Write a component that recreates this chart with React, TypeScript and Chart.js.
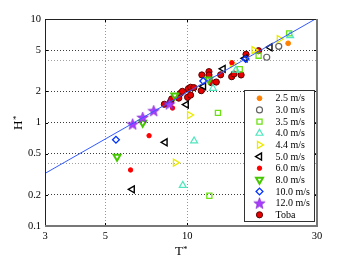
import React, { useEffect, useRef } from 'react';
import { Chart, registerables } from 'chart.js';
import { drawPoint } from 'chart.js/helpers';

Chart.register(...registerables);

const FONT = '"Liberation Serif", "DejaVu Serif", serif';

// ---- axis ticks ----
const xTickValues = [3, 5, 10, 30];
const xGridValues = [5, 10];
const yTickValues = [0.1, 0.2, 0.5, 1, 2, 5, 10];
const yMinorGridValues = [0.4, 4];

// ---- fitted line (H* = 0.062 T*^1.5) end points ----
const fitT = [3, 30];
const fitH = [0.322, 10.2];

// ---- series labels ----
const seriesLabels = ['2.5 m/s', '3.0 m/s', '3.5 m/s', '4.0 m/s', '4.4 m/s', '5.0 m/s', '6.0 m/s', '8.0 m/s', '10.0 m/s', '12.0 m/s', 'Toba'];

// ---- series values (T*, H*) ----
const t25 = [23.5];
const h25 = [5.82];
const t30 = [21.7, 19.6];
const h30 = [5.45, 4.27];
const t35 = [23.7, 18.3, 15.6, 12.97, 12.06];
const h35 = [7.27, 4.42, 3.27, 1.24, 0.196];
const t40 = [23.9, 15.1, 12.43, 10.6, 9.63];
const h40 = [6.9, 3.21, 2.14, 0.663, 0.247];
const t44 = [21.8, 17.6, 14.66, 10.2, 9.05];
const h44 = [6.4, 5.01, 3.67, 1.18, 0.409];
const t50 = [20.15, 16.3, 13.55, 11.48, 9.92, 8.29, 6.28];
const h50 = [5.33, 4.17, 3.3, 2.24, 1.49, 0.644, 0.226];
const t60 = [14.6, 8.83, 7.24, 6.19];
const h60 = [3.78, 1.38, 0.746, 0.348];
const t80 = [12.0, 9.0, 6.86, 5.52];
const h80 = [2.6, 1.82, 0.995, 0.467];
const t100 = [16.4, 11.45, 5.47];
const h100 = [4.11, 2.52, 0.682];
const t120 = [8.6, 7.53, 6.86, 6.3];
const h120 = [1.51, 1.3, 1.12, 0.967];
const tToba = [8.24, 8.68, 8.77, 9.31, 9.46, 9.6, 10.03, 10.29, 10.1, 10.29, 10.58, 11.26, 11.32, 12.02, 12.02, 12.3, 12.79, 13.27, 14.57, 14.86, 15.78, 16.45, 18.29];
const hToba = [1.5, 1.59, 1.69, 1.72, 1.92, 2.0, 1.75, 1.84, 2.12, 2.19, 2.17, 2.03, 2.88, 3.1, 2.88, 2.42, 2.46, 2.89, 2.77, 2.94, 2.88, 4.56, 4.94];

const seriesT = [t25, t30, t35, t40, t44, t50, t60, t80, t100, t120, tToba];
const seriesH = [h25, h30, h35, h40, h44, h50, h60, h80, h100, h120, hToba];

function makeStar(color: string): HTMLCanvasElement {
  const c = document.createElement('canvas');
  c.width = 13;
  c.height = 13;
  const g = c.getContext('2d')!;
  g.beginPath();
  for (let i = 0; i < 10; i++) {
    const r = i % 2 === 0 ? 6 : 2.5;
    const a = -Math.PI / 2 + (i * Math.PI) / 5;
    g.lineTo(6.5 + r * Math.cos(a), 7 + r * Math.sin(a));
  }
  g.closePath();
  g.fillStyle = color;
  g.fill();
  g.strokeStyle = 'rgb(120,30,200)';
  g.lineWidth = 0.6;
  g.stroke();
  return c;
}

type Style = { pointStyle: any; rotation: number; radius: number; fill: string; stroke: string; width: number };

function makeStyles(): Style[] {
  const none = 'rgba(0,0,0,0)';
  return [
    { pointStyle: 'circle', rotation: 0, radius: 2.4, fill: 'rgb(255,128,0)', stroke: 'rgb(255,128,0)', width: 1 },
    { pointStyle: 'circle', rotation: 0, radius: 3, fill: none, stroke: 'rgb(100,100,100)', width: 1.2 },
    { pointStyle: 'rect', rotation: 0, radius: 3.6, fill: none, stroke: 'rgb(110,225,20)', width: 1.3 },
    { pointStyle: 'triangle', rotation: 0, radius: 4, fill: none, stroke: 'rgb(80,230,190)', width: 1.2 },
    { pointStyle: 'triangle', rotation: 90, radius: 4, fill: none, stroke: 'rgb(235,235,0)', width: 1.3 },
    { pointStyle: 'triangle', rotation: -90, radius: 4, fill: none, stroke: 'rgb(0,0,0)', width: 1.4 },
    { pointStyle: 'circle', rotation: 0, radius: 2.2, fill: 'rgb(255,0,0)', stroke: 'rgb(255,0,0)', width: 1 },
    { pointStyle: 'triangle', rotation: 180, radius: 4, fill: none, stroke: 'rgb(70,200,0)', width: 2 },
    { pointStyle: 'rectRot', rotation: 0, radius: 3.4, fill: none, stroke: 'rgb(0,50,255)', width: 1.3 },
    { pointStyle: makeStar('rgb(170,60,255)'), rotation: 0, radius: 5, fill: 'rgb(170,60,255)', stroke: 'rgb(170,60,255)', width: 1 },
    { pointStyle: 'circle', rotation: 0, radius: 3.1, fill: 'rgb(230,0,0)', stroke: 'rgb(90,0,0)', width: 1 },
  ];
}

export default function App() {
  const ref = useRef<HTMLCanvasElement>(null);

  useEffect(() => {
    document.body.style.margin = '0';
    const styles = makeStyles();

    const datasets: any[] = seriesLabels.map((label, si) => {
      const s = styles[si];
      return {
        type: 'scatter',
        label,
        data: seriesT[si].map((t, i) => ({ x: t, y: seriesH[si][i] })),
        pointStyle: s.pointStyle,
        pointRotation: s.rotation,
        pointRadius: s.radius,
        pointBackgroundColor: s.fill,
        pointBorderColor: s.stroke,
        pointBorderWidth: s.width,
        backgroundColor: s.fill,
        borderColor: s.stroke,
        order: si === seriesLabels.length - 1 ? 50 : 20 - si,
      };
    });
    datasets.push({
      type: 'line',
      label: 'fit',
      data: fitT.map((t, i) => ({ x: t, y: fitH[i] })),
      borderColor: 'rgb(50,90,255)',
      borderWidth: 1,
      pointRadius: 0,
      fill: false,
      order: 0,
    });

    const overlay = {
      id: 'overlay',
      afterDraw(chart: any) {
        const ctx = chart.ctx as CanvasRenderingContext2D;
        const { left, right, top, bottom } = chart.chartArea;
        const xs = chart.scales.x;
        const ys = chart.scales.y;
        ctx.save();
        // inside tick marks
        ctx.strokeStyle = '#000';
        ctx.lineWidth = 1;
        ctx.beginPath();
        yTickValues.forEach((v) => {
          const y = Math.round(ys.getPixelForValue(v)) + 0.5;
          ctx.moveTo(left, y);
          ctx.lineTo(left + 3, y);
          ctx.moveTo(right, y);
          ctx.lineTo(right - 3, y);
        });
        xTickValues.forEach((v) => {
          const x = Math.round(xs.getPixelForValue(v)) + 0.5;
          ctx.moveTo(x, bottom);
          ctx.lineTo(x, bottom - 3);
          ctx.moveTo(x, top);
          ctx.lineTo(x, top + 3);
        });
        ctx.stroke();
        // frame
        ctx.strokeStyle = '#222';
        ctx.lineWidth = 1;
        ctx.beginPath();
        ctx.moveTo(left + 0.5, bottom);
        ctx.lineTo(left + 0.5, top + 0.5);
        ctx.lineTo(right, top + 0.5);
        ctx.stroke();
        ctx.strokeStyle = '#777';
        ctx.lineWidth = 2;
        ctx.beginPath();
        ctx.moveTo(left, bottom);
        ctx.lineTo(right, bottom);
        ctx.lineTo(right, top);
        ctx.stroke();

        // axis titles
        ctx.fillStyle = '#000';
        ctx.textBaseline = 'alphabetic';
        ctx.textAlign = 'left';
        ctx.font = `13px ${FONT}`;
        ctx.fillText('T', 175, 255);
        ctx.font = `9px ${FONT}`;
        ctx.fillText('*', 183, 252);
        ctx.save();
        ctx.translate(22, 130);
        ctx.rotate(-Math.PI / 2);
        ctx.font = `13px ${FONT}`;
        ctx.fillText('H', 0, 0);
        ctx.font = `9px ${FONT}`;
        ctx.fillText('*', 10, -3);
        ctx.restore();

        // legend
        const bx = 244, by = 90, bw = 70, bh = 131;
        ctx.fillStyle = '#fff';
        ctx.fillRect(bx, by, bw, bh);
        ctx.strokeStyle = '#333';
        ctx.lineWidth = 1;
        ctx.strokeRect(bx + 0.5, by + 0.5, bw, bh);
        ctx.font = `10px ${FONT}`;
        ctx.textBaseline = 'middle';
        seriesLabels.forEach((label, i) => {
          const y = 98.3 + i * 11.65;
          const s = styles[i];
          ctx.fillStyle = s.fill;
          ctx.strokeStyle = s.stroke;
          ctx.lineWidth = s.width;
          drawPoint(ctx, { pointStyle: s.pointStyle, rotation: s.rotation, radius: s.radius, borderWidth: s.width } as any, 259.5, y);
          ctx.fillStyle = '#000';
          ctx.fillText(label, 275.5, y + 0.5);
        });
        ctx.restore();
      },
    };

    const chart = new Chart(ref.current!, {
      type: 'scatter',
      data: { datasets },
      options: {
        animation: false,
        responsive: false,
        devicePixelRatio: 1,
        layout: { padding: { top: 19, right: 33, left: 0, bottom: 0 } },
        plugins: { legend: { display: false }, tooltip: { enabled: false } },
        scales: {
          x: {
            type: 'logarithmic',
            min: 3,
            max: 30,
            afterBuildTicks: (a: any) => {
              a.ticks = xTickValues.map((v) => ({ value: v }));
            },
            afterFit: (a: any) => {
              a.height = 33;
            },
            ticks: {
              autoSkip: false,
              maxRotation: 0,
              padding: 4,
              color: '#000',
              font: { family: FONT, size: 10.5 },
              callback: (v: any) => String(v),
            },
            grid: {
              drawTicks: false,
              lineWidth: 1,
              color: (c: any) => (c.tick && xGridValues.includes(c.tick.value) ? 'rgb(150,150,150)' : 'rgba(0,0,0,0)'),
            },
            border: { display: false, dash: [1, 2] },
          },
          y: {
            type: 'logarithmic',
            min: 0.1,
            max: 10,
            afterBuildTicks: (a: any) => {
              a.ticks = [...yTickValues, ...yMinorGridValues].sort((p, q) => p - q).map((v) => ({ value: v }));
            },
            afterFit: (a: any) => {
              a.width = 45;
            },
            ticks: {
              autoSkip: false,
              padding: 4,
              color: '#000',
              font: { family: FONT, size: 10.5 },
              callback: (v: any) => (yTickValues.includes(v) ? String(v) : ''),
            },
            grid: {
              drawTicks: false,
              lineWidth: 1,
              color: (c: any) => {
                if (!c.tick) return 'rgba(0,0,0,0)';
                const v = c.tick.value;
                if (v === 0.1 || v === 10) return 'rgba(0,0,0,0)';
                return yMinorGridValues.includes(v) ? 'rgb(160,160,160)' : 'rgb(60,60,60)';
              },
            },
            border: { display: false, dash: [1, 2] },
          },
        },
      },
      plugins: [overlay],
    } as any);

    return () => chart.destroy();
  }, []);

  return (
    <div style={{ width: 350, height: 259 }}>
      <canvas ref={ref} width={350} height={259} style={{ display: 'block' }} />
    </div>
  );
}
